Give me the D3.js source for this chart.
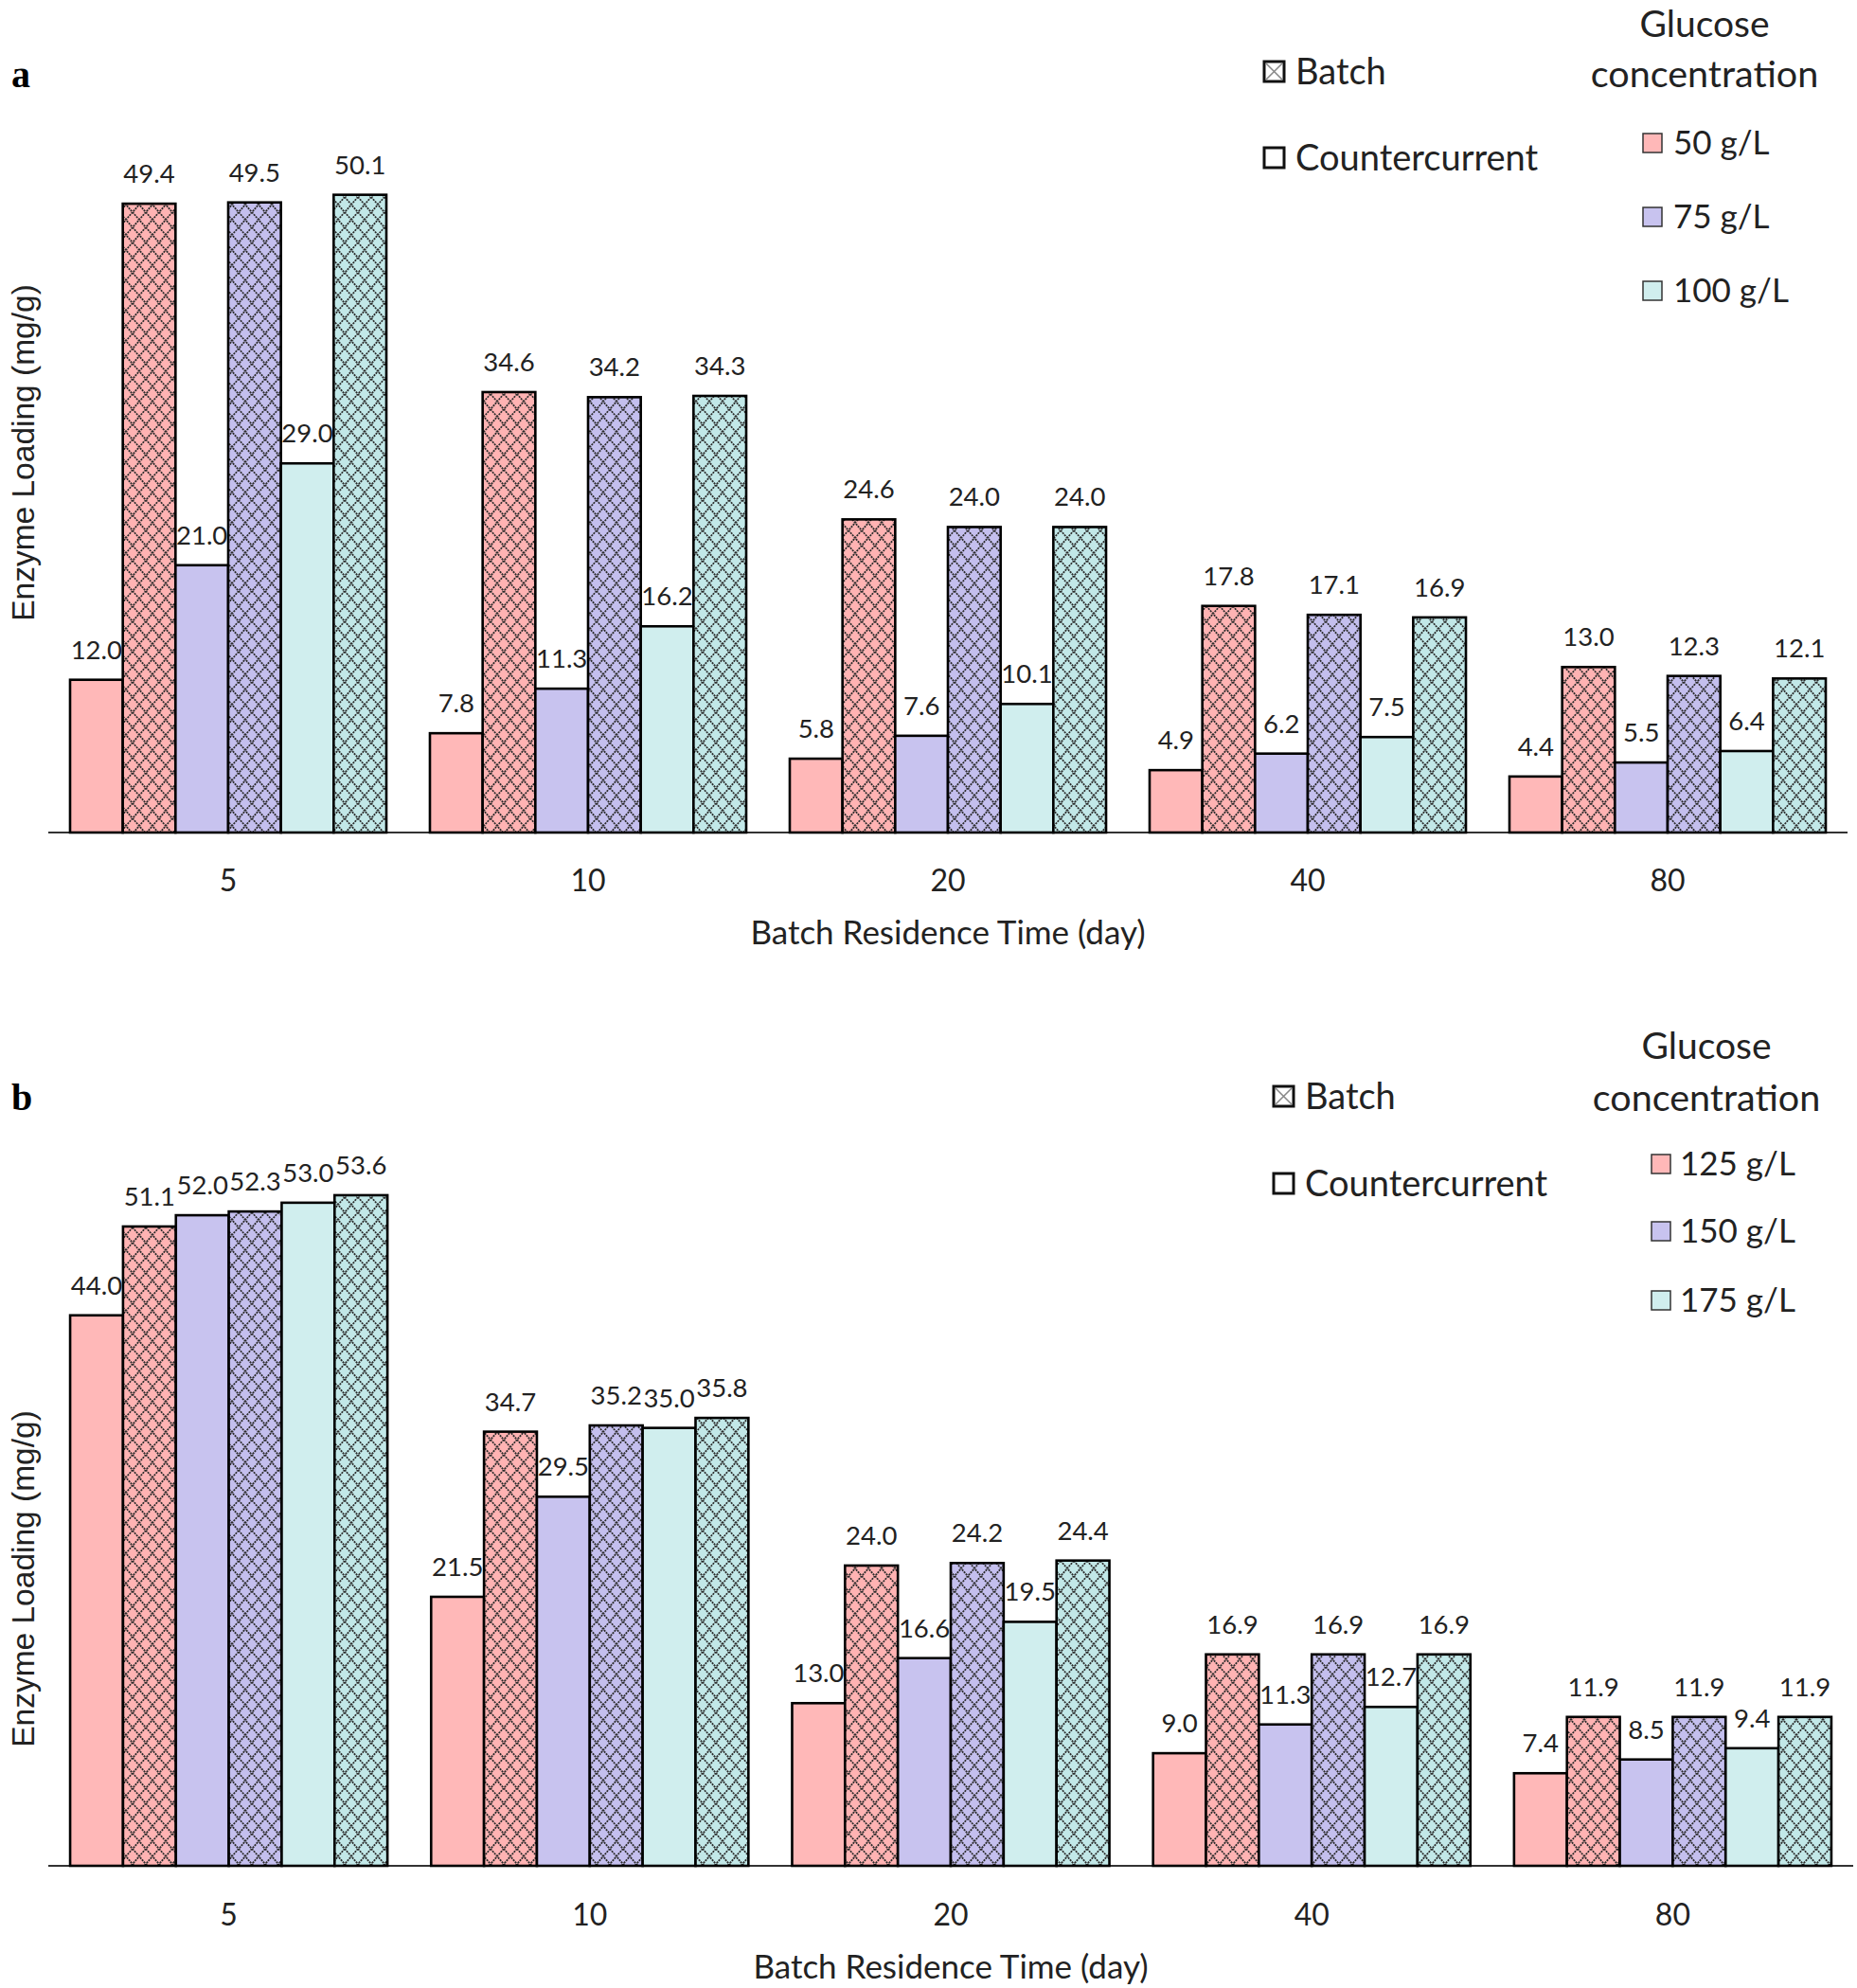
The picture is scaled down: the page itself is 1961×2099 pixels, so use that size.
<!DOCTYPE html>
<html><head><meta charset="utf-8">
<script src="https://cdn.jsdelivr.net/npm/d3@7"></script>
<style>body{margin:0;background:#fff}svg{display:block}</style>
</head><body>
<svg id="chart" width="1961" height="2099"></svg>
<script>
// ---- data ----
const categories = ["5", "10", "20", "40", "80"];
const seriesKeys = ["c1", "b1", "c2", "b2", "c3", "b3"]; // counter/batch alternating
const seriesColorIdx = [0, 0, 1, 1, 2, 2];
const seriesHatched = [false, true, false, true, false, true];

const a_counter50 = [12.0, 7.8, 5.8, 4.9, 4.4];
const a_batch50 = [49.4, 34.6, 24.6, 17.8, 13.0];
const a_counter75 = [21.0, 11.3, 7.6, 6.2, 5.5];
const a_batch75 = [49.5, 34.2, 24.0, 17.1, 12.3];
const a_counter100 = [29.0, 16.2, 10.1, 7.5, 6.4];
const a_batch100 = [50.1, 34.3, 24.0, 16.9, 12.1];
const a_concLabels = ["50 g/L", "75 g/L", "100 g/L"];

const b_counter125 = [44.0, 21.5, 13.0, 9.0, 7.4];
const b_batch125 = [51.1, 34.7, 24.0, 16.9, 11.9];
const b_counter150 = [52.0, 29.5, 16.6, 11.3, 8.5];
const b_batch150 = [52.3, 35.2, 24.2, 16.9, 11.9];
const b_counter175 = [53.0, 35.0, 19.5, 12.7, 9.4];
const b_batch175 = [53.6, 35.8, 24.4, 16.9, 11.9];
const b_concLabels = ["125 g/L", "150 g/L", "175 g/L"];

const colors = ["#FFB8B8", "#C8C3EF", "#D0EEEE"];
const hatchColors = ["#FFB3B3", "#C4BFEE", "#C2E8E8"];

const svg = d3.select("#chart");
const defs = svg.append("defs");
hatchColors.forEach((c, i) => {
  const p = defs.append("pattern").attr("id", "hatch" + i)
    .attr("patternUnits", "userSpaceOnUse").attr("width", 14).attr("height", 16);
  p.append("rect").attr("width", 14).attr("height", 16).attr("fill", c);
  p.append("path").attr("d", "M0,0L14,16M14,0L0,16M-7,8L0,16M7,-8L0,0")
    .attr("stroke", "#2a2a2a").attr("stroke-width", 1.8)
    .attr("stroke-dasharray", "2,1").attr("fill", "none");
});

const calibri = "Lato, 'Open Sans', sans-serif";

function panel(cfg) {
  const g = svg.append("g");
  const x = d3.scaleBand().domain(categories).range([cfg.x0, cfg.x1])
    .paddingInner(0.121).paddingOuter(0.0605);
  const xi = d3.scaleBand().domain(seriesKeys).range([0, x.bandwidth()]).padding(0);
  const y = d3.scaleLinear().domain([0, 60]).range([cfg.base, cfg.base - 60 * cfg.ppu]);

  // axis line
  g.append("line").attr("x1", cfg.x0).attr("x2", cfg.x1)
    .attr("y1", cfg.base).attr("y2", cfg.base)
    .attr("stroke", "#333").attr("stroke-width", 2);

  const rows = [];
  categories.forEach((cat, ci) => {
    cfg.series.forEach((arr, si) => {
      rows.push({cat, key: seriesKeys[si], v: arr[ci], si});
    });
  });

  g.selectAll("rect.bar").data(rows).join("rect").attr("class", "bar")
    .attr("x", d => x(d.cat) + xi(d.key))
    .attr("width", xi.bandwidth())
    .attr("y", d => y(d.v))
    .attr("height", d => y(0) - y(d.v))
    .attr("fill", d => seriesHatched[d.si] ? `url(#hatch${seriesColorIdx[d.si]})` : colors[seriesColorIdx[d.si]])
    .attr("stroke", "#000").attr("stroke-width", 2.6);

  g.selectAll("text.val").data(rows).join("text").attr("class", "val")
    .attr("x", d => x(d.cat) + xi(d.key) + xi.bandwidth() / 2)
    .attr("y", d => y(d.v) - 22)
    .attr("text-anchor", "middle")
    .attr("font-family", calibri).attr("font-size", 27.5).attr("fill", "#222")
    .text(d => d.v.toFixed(1));

  // category ticks
  const ax = g.append("g").attr("transform", `translate(0,${cfg.base})`)
    .call(d3.axisBottom(x).tickSize(0).tickPadding(0));
  ax.select(".domain").remove();
  ax.selectAll("text").attr("y", cfg.tickDy).attr("dy", null)
    .attr("font-family", calibri).attr("font-size", 32).attr("fill", "#222");

  g.append("text").attr("x", (cfg.x0 + cfg.x1) / 2).attr("y", cfg.titleY)
    .attr("text-anchor", "middle").attr("font-family", calibri)
    .attr("font-size", 35).attr("fill", "#222").text("Batch Residence Time (day)");

  g.append("text").attr("transform", `translate(${cfg.yTitleX},${cfg.yTitleY}) rotate(-90)`)
    .attr("text-anchor", "middle").attr("font-family", "'Liberation Sans', Arial, sans-serif")
    .attr("font-size", 33.5).attr("fill", "#222").text("Enzyme Loading (mg/g)");

  g.append("text").attr("x", 12).attr("y", cfg.letterY)
    .attr("font-family", "'Liberation Serif', 'Times New Roman', serif")
    .attr("font-weight", "bold").attr("font-size", 40).text(cfg.letter);

  // legend: batch / countercurrent
  const L = cfg.legend;
  const bb = g.append("g").attr("transform", `translate(${L.bx},${L.by1 - 11})`);
  bb.append("rect").attr("width", 21).attr("height", 21).attr("fill", "#fff")
    .attr("stroke", "#111").attr("stroke-width", 3);
  bb.append("path").attr("d", "M2,2L19,19M19,2L2,19").attr("stroke", "#888").attr("stroke-width", 1.6);
  g.append("text").attr("x", L.btx).attr("y", L.by1 + 13).attr("font-family", calibri)
    .attr("font-size", 38).attr("fill", "#222").text("Batch");
  g.append("rect").attr("x", L.bx).attr("y", L.by2 - 11).attr("width", 21).attr("height", 21)
    .attr("fill", "#fff").attr("stroke", "#111").attr("stroke-width", 3);
  g.append("text").attr("x", L.btx).attr("y", L.by2 + 13).attr("font-family", calibri)
    .attr("font-size", 38).attr("fill", "#222").text("Countercurrent");

  g.append("text").attr("x", L.gx).attr("y", L.gy1 + 14).attr("text-anchor", "middle")
    .attr("font-family", calibri).attr("font-size", 39).attr("fill", "#222").text("Glucose");
  g.append("text").attr("x", L.gx).attr("y", L.gy2 + 14).attr("text-anchor", "middle")
    .attr("font-family", calibri).attr("font-size", 39.5).attr("fill", "#222").text("concentration");

  cfg.concLabels.forEach((lab, i) => {
    g.append("rect").attr("x", L.cx).attr("y", L.cy[i] - 10).attr("width", 20).attr("height", 20)
      .attr("fill", colors[i]).attr("stroke", "#333").attr("stroke-width", 1.5);
    g.append("text").attr("x", L.ctx).attr("y", L.cy[i] + 12).attr("font-family", calibri)
      .attr("font-size", 35).attr("fill", "#222").text(lab);
  });
}

panel({
  letter: "a", letterY: 92,
  series: [a_counter50, a_batch50, a_counter75, a_batch75, a_counter100, a_batch100],
  concLabels: a_concLabels,
  x0: 51, x1: 1951, base: 879, ppu: 13.44,
  tickDy: 62, titleY: 997, yTitleX: 36, yTitleY: 478,
  legend: {bx: 1335, btx: 1368, by1: 76, by2: 167, gx: 1800, gy1: 25, gy2: 78,
           cx: 1735, ctx: 1767, cy: [151, 229, 307]}
});

panel({
  letter: "b", letterY: 1172,
  series: [b_counter125, b_batch125, b_counter150, b_batch150, b_counter175, b_batch175],
  concLabels: b_concLabels,
  x0: 51, x1: 1957, base: 1970, ppu: 13.21,
  tickDy: 63, titleY: 2089, yTitleX: 36, yTitleY: 1667,
  legend: {bx: 1345, btx: 1378, by1: 1158, by2: 1250, gx: 1802, gy1: 1104, gy2: 1159,
           cx: 1744, ctx: 1774, cy: [1229, 1300, 1373]}
});
</script>
</body></html>
